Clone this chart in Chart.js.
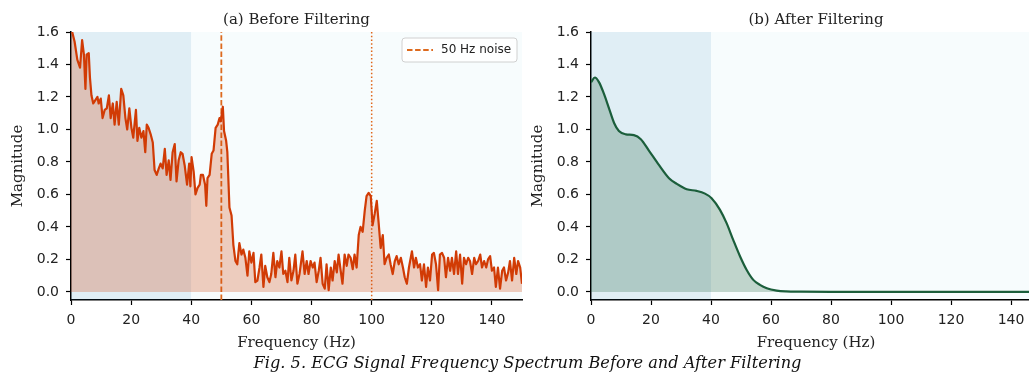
<!DOCTYPE html>
<html>
<head>
<meta charset="utf-8">
<script src="https://cdn.jsdelivr.net/npm/chart.js@4.4.0/dist/chart.umd.min.js"></script>
<style>
  html, body { margin: 0; padding: 0; overflow: hidden; background: #fff; width: 1029px; height: 374px; }
  canvas { position: absolute; top: 0; }
  #before { left: 0; }
  #after { left: 520px; }
  #caption { position: absolute; left: 0; width: 1055px; top: 354px; text-align: center;
             font: italic 16.2px "DejaVu Serif"; line-height: 18px; color: #111; }
</style>
</head>
<body>
<canvas id="before" width="530" height="374"></canvas>
<canvas id="after" width="529" height="374"></canvas>
<div id="caption">Fig. 5. ECG Signal Frequency Spectrum Before and After Filtering</div>
<script>
// spectrum before filtering
const beforeFreq = [
  0, 1.2, 2.1, 3.0, 3.7, 4.3, 4.8, 5.2, 5.9, 6.3, 6.8, 7.4, 8.1, 8.8, 9.2, 9.9,
  10.5, 11.2, 11.9, 12.6, 13.2, 13.9, 14.5, 15.2, 15.9, 16.7, 17.4, 18.1, 18.7, 19.4,
  20.1, 20.7, 21.6, 22.1, 22.7, 23.4, 24.1, 24.7, 25.2, 25.8, 26.5, 27.2, 27.8, 28.5, 29.2, 29.8,
  30.5, 31.2, 31.8, 32.5, 33.1, 33.8, 34.5, 35.1, 35.8, 36.5, 37.1, 37.8,
  38.6, 39.3, 39.7, 40.1, 40.8, 41.4, 42.1, 42.8, 43.2, 43.9, 44.6, 45.0, 45.4, 46.1, 46.8, 47.4, 48.1, 48.8, 49.4, 49.8,
  50.5, 50.9, 51.6, 52.0, 52.7, 53.4, 54.0, 54.7, 55.3, 56.0, 56.7, 57.3, 58.0, 58.7, 59.3,
  60.0, 60.7, 61.3, 62.0, 62.7, 63.3, 64.0, 64.6, 65.3, 66.0, 66.6, 67.3, 68.0, 68.6, 69.3,
  70.0, 70.6, 71.3, 72.0, 72.6, 73.3, 74.0, 74.6, 75.3, 76.0, 77.0, 77.7, 78.4, 79.0, 79.7,
  80.4, 81.0, 81.7, 82.4, 83.0, 83.7, 84.4, 85.0, 85.7, 86.4, 87.0, 87.7, 88.4, 89.0, 89.7,
  90.3, 91.0, 91.7, 92.3, 93.0, 93.7, 94.3, 95.0, 95.7, 96.3, 97.0, 97.7, 98.3, 99.0, 99.7,
  100.3, 101.0, 101.7, 102.3, 103.0, 103.7, 104.3, 105.0, 105.7, 106.3, 107.0, 107.7, 108.3, 109.0, 109.7,
  110.4, 111.0, 111.7, 112.4, 113.4, 114.1, 114.7, 115.4, 116.1, 116.7, 117.4, 118.1, 118.7, 119.4,
  120.1, 120.7, 121.4, 122.1, 122.7, 123.4, 124.1, 124.7, 125.4, 126.1, 126.7, 127.4, 128.1, 128.7, 129.4,
  130.1, 130.7, 131.4, 132.1, 132.7, 133.4, 134.1, 134.7, 135.4, 136.1, 136.7, 137.4, 138.1, 138.7, 139.4,
  140.0, 140.7, 141.3, 142.0, 142.7, 143.4, 144.0, 144.7, 145.4, 146.0, 146.7, 147.4, 148.1, 148.7, 149.4, 150.0
];
const beforeMag = [
  1.63, 1.54, 1.43, 1.38, 1.55, 1.46, 1.25, 1.46, 1.47, 1.32, 1.21, 1.16, 1.18, 1.20, 1.16, 1.19,
  1.07, 1.12, 1.13, 1.21, 1.07, 1.16, 1.03, 1.17, 1.03, 1.25, 1.21, 1.07, 1.00, 1.13,
  1.01, 0.95, 1.12, 0.93, 1.01, 0.95, 0.99, 0.86, 1.03, 1.01, 0.97, 0.92, 0.75, 0.72, 0.76, 0.79,
  0.76, 0.88, 0.72, 0.81, 0.69, 0.86, 0.91, 0.68, 0.81, 0.86, 0.85, 0.78,
  0.66, 0.79, 0.65, 0.83, 0.74, 0.60, 0.64, 0.66, 0.72, 0.72, 0.66, 0.53, 0.70, 0.72, 0.85, 0.87, 1.01, 1.03, 1.07, 1.05,
  1.14, 0.99, 0.93, 0.86, 0.52, 0.47, 0.29, 0.19, 0.17, 0.30, 0.23, 0.26, 0.21, 0.10, 0.25,
  0.18, 0.24, 0.06, 0.07, 0.15, 0.23, 0.03, 0.16, 0.09, 0.06, 0.11, 0.24, 0.09, 0.19, 0.15,
  0.25, 0.11, 0.13, 0.06, 0.21, 0.07, 0.13, 0.23, 0.05, 0.11, 0.25, 0.11, 0.19, 0.11, 0.19,
  0.15, 0.18, 0.06, 0.13, 0.21, 0.05, 0.02, 0.17, 0.01, 0.15, 0.07, 0.19, 0.12, 0.23, 0.13,
  0.05, 0.23, 0.16, 0.23, 0.21, 0.14, 0.23, 0.15, 0.35, 0.40, 0.37, 0.50, 0.59, 0.61, 0.59,
  0.41, 0.48, 0.56, 0.43, 0.27, 0.35, 0.17, 0.21, 0.23, 0.17, 0.11, 0.19, 0.22, 0.17, 0.21,
  0.15, 0.09, 0.05, 0.15, 0.25, 0.15, 0.21, 0.15, 0.17, 0.07, 0.17, 0.03, 0.15, 0.07,
  0.23, 0.24, 0.17, 0.01, 0.23, 0.24, 0.21, 0.09, 0.21, 0.13, 0.21, 0.11, 0.25, 0.11, 0.23,
  0.05, 0.21, 0.17, 0.21, 0.19, 0.11, 0.21, 0.17, 0.19, 0.23, 0.15, 0.19, 0.15, 0.20, 0.22,
  0.13, 0.15, 0.03, 0.15, 0.02, 0.13, 0.15, 0.07, 0.12, 0.19, 0.07, 0.21, 0.11, 0.19, 0.15, 0.05
];

// spectrum after filtering
const afterFreq = [0, 1.3, 2.7, 4.3, 6.0, 7.7, 9.3, 11.6, 14.3, 16.6, 19.3, 22.7, 26.0, 28.6, 31.9, 35.2,
  38.0, 40.2, 43.0, 45.2, 47.4, 49.7, 51.9, 54.1, 56.3, 58.6, 61.9, 65, 70, 80, 100, 120, 150];
const afterMag = [1.29, 1.32, 1.29, 1.22, 1.13, 1.04, 0.99, 0.97, 0.965, 0.94, 0.87, 0.78, 0.70, 0.665, 0.632, 0.622,
  0.605, 0.577, 0.505, 0.423, 0.32, 0.218, 0.135, 0.074, 0.043, 0.022, 0.008, 0.003, 0.001, 0, 0, 0, 0];

const xTicks = [0, 20, 40, 60, 80, 100, 120, 140];
const yTicks = [0, 0.2, 0.4, 0.6, 0.8, 1.0, 1.2, 1.4, 1.6];
const passBand = [0, 40];
const noiseFreqs = [50, 100];
const yMin = -0.05, yMax = 1.6;

const pairs = (xs, ys) => xs.map((x, i) => ({x: x, y: ys[i]}));

// plot background, panel title and the boxed legend
const panelPlugin = {
  id: 'panel',
  beforeDraw(chart, args, opts) {
    const {ctx, chartArea: a} = chart;
    ctx.save();
    ctx.fillStyle = '#f7fcfd';
    ctx.fillRect(a.left, a.top, a.right - a.left, a.bottom - a.top);
    ctx.restore();
  },
  afterDraw(chart, args, opts) {
    const {ctx, chartArea: a} = chart;
    ctx.save();
    ctx.font = '15px "DejaVu Serif"';
    ctx.fillStyle = '#222';
    ctx.textAlign = 'center';
    ctx.textBaseline = 'middle';
    ctx.fillText(opts.title, (a.left + a.right) / 2, 20);
    if (opts.legendIndex != null) {
      const ds = chart.data.datasets[opts.legendIndex];
      const w = 115, h = 24;
      const x0 = a.right - 5 - w, y0 = a.top + 6;
      const r = 3;
      ctx.beginPath();
      ctx.moveTo(x0 + r, y0);
      ctx.arcTo(x0 + w, y0, x0 + w, y0 + h, r);
      ctx.arcTo(x0 + w, y0 + h, x0, y0 + h, r);
      ctx.arcTo(x0, y0 + h, x0, y0, r);
      ctx.arcTo(x0, y0, x0 + w, y0, r);
      ctx.closePath();
      ctx.fillStyle = 'rgba(255,255,255,0.85)';
      ctx.fill();
      ctx.strokeStyle = '#d0d0d0';
      ctx.lineWidth = 1;
      ctx.stroke();
      const cy = y0 + h / 2;
      ctx.beginPath();
      ctx.setLineDash(ds.borderDash);
      ctx.strokeStyle = ds.borderColor;
      ctx.lineWidth = ds.borderWidth;
      ctx.moveTo(x0 + 5, cy);
      ctx.lineTo(x0 + 31, cy);
      ctx.stroke();
      ctx.setLineDash([]);
      ctx.font = '12px "DejaVu Sans"';
      ctx.fillStyle = '#222';
      ctx.textAlign = 'left';
      ctx.fillText(ds.label, x0 + 39, cy);
    }
    ctx.restore();
  }
};

const makeScales = () => ({
  x: {
    type: 'linear', min: 0, max: 150,
    afterBuildTicks: s => { s.ticks = xTicks.map(v => ({value: v})); },
    afterFit: s => { s.height = 74; },
    grid: {drawOnChartArea: false, tickLength: 5, tickColor: '#000', tickWidth: 1.2},
    border: {color: '#000', width: 1.5},
    ticks: {color: '#222', font: {family: 'DejaVu Sans', size: 14}, padding: 7, maxRotation: 0, autoSkip: false,
            callback: v => String(v)},
    title: {display: true, text: 'Frequency (Hz)', color: '#222',
            font: {family: 'DejaVu Serif', size: 15}, padding: {top: 4, bottom: 22}}
  },
  y: {
    min: yMin, max: yMax,
    afterBuildTicks: s => { s.ticks = yTicks.map(v => ({value: v})); },
    afterFit: s => { s.width = 71; },
    grid: {drawOnChartArea: false, tickLength: 5, tickColor: '#000', tickWidth: 1.2},
    border: {color: '#000', width: 1.5},
    ticks: {color: '#222', font: {family: 'DejaVu Sans', size: 14}, padding: 7, callback: v => v.toFixed(1)},
    title: {display: true, text: 'Magnitude', color: '#222',
            font: {family: 'DejaVu Serif', size: 15}, padding: {top: 9, bottom: 0}}
  }
});

const bandDataset = () => ({
  data: passBand.map(f => ({x: f, y: yMax})),
  fill: 'start',
  backgroundColor: 'rgba(31,119,180,0.10)',
  borderWidth: 0,
  pointRadius: 0,
  order: 3
});

const baseOptions = (title, legendIndex) => ({
  responsive: false,
  animation: false,
  devicePixelRatio: 1,
  layout: {padding: {top: 32, right: 8, bottom: 0, left: 0}},
  scales: makeScales(),
  plugins: {
    legend: {display: false},
    tooltip: {enabled: false},
    panel: {title: title, legendIndex: legendIndex}
  }
});

new Chart(document.getElementById('before'), {
  type: 'line',
  data: {
    datasets: [
      bandDataset(),
      {
        label: '50 Hz noise',
        data: [{x: noiseFreqs[0], y: yMin}, {x: noiseFreqs[0], y: yMax}],
        borderColor: '#dd6a1e',
        borderWidth: 1.8,
        borderDash: [5.5, 2.6],
        pointRadius: 0,
        fill: false,
        order: 2
      },
      {
        label: '100 Hz harmonic',
        data: [{x: noiseFreqs[1], y: yMin}, {x: noiseFreqs[1], y: yMax}],
        borderColor: '#e0661a',
        borderWidth: 1.5,
        borderDash: [1.5, 2.2],
        pointRadius: 0,
        fill: false,
        order: 2
      },
      {
        label: 'Before',
        data: pairs(beforeFreq, beforeMag),
        borderColor: '#d13b05',
        backgroundColor: 'rgba(209,59,5,0.25)',
        borderWidth: 2.2,
        borderJoinStyle: 'round',
        pointRadius: 0,
        fill: 'origin',
        order: 1
      }
    ]
  },
  options: baseOptions('(a) Before Filtering', 1),
  plugins: [panelPlugin]
});

new Chart(document.getElementById('after'), {
  type: 'line',
  data: {
    datasets: [
      bandDataset(),
      {
        label: 'After',
        data: pairs(afterFreq, afterMag),
        borderColor: '#1b5e3b',
        backgroundColor: 'rgba(27,94,59,0.25)',
        borderWidth: 2.2,
        cubicInterpolationMode: 'monotone',
        pointRadius: 0,
        fill: 'origin',
        order: 1
      }
    ]
  },
  options: baseOptions('(b) After Filtering', null),
  plugins: [panelPlugin]
});
</script>
</body>
</html>
